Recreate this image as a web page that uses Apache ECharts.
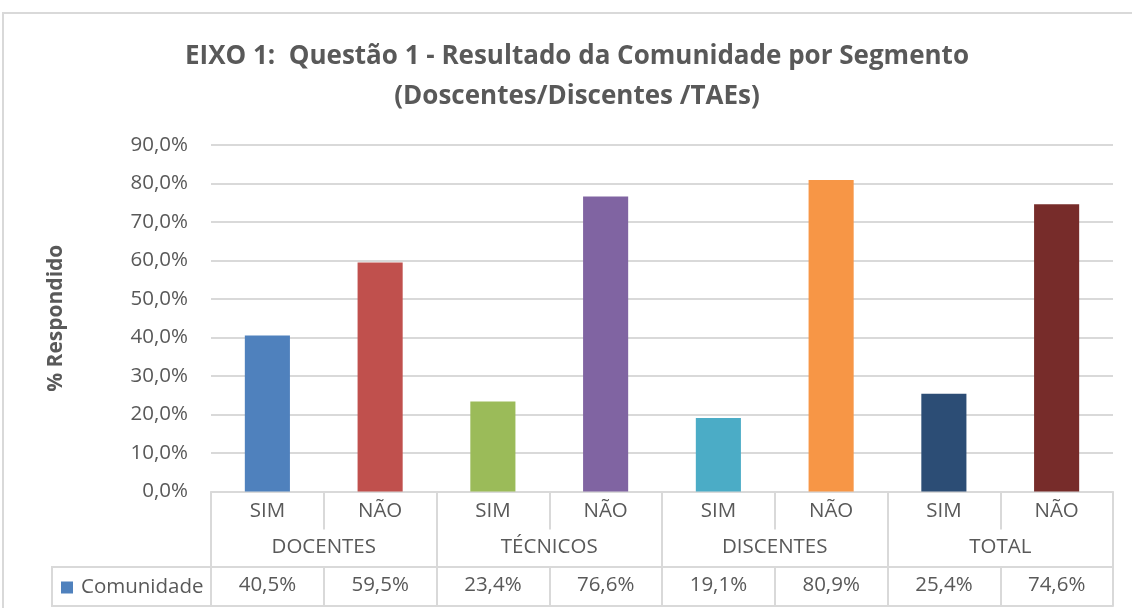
<!DOCTYPE html>
<html>
<head>
<meta charset="utf-8">
<title>EIXO 1 - Questão 1</title>
<script src="https://cdn.jsdelivr.net/npm/echarts@6/dist/echarts.min.js"></script>
<style>
  html, body { margin: 0; padding: 0; background: #fff; }
  #chart { width: 1132px; height: 608px; }
</style>
</head>
<body>
<div id="chart"></div>
<script>
// categorias (dois níveis) e valores
var segmentos = ['DOCENTES', 'TÉCNICOS', 'DISCENTES', 'TOTAL']
var respostas = ['SIM', 'NÃO', 'SIM', 'NÃO', 'SIM', 'NÃO', 'SIM', 'NÃO']
var comunidade = [40.5, 59.5, 23.4, 76.6, 19.1, 80.9, 25.4, 74.6]
var cores = ['#4F81BD', '#C0504D', '#9BBB59', '#8064A2', '#4BACC6', '#F79646', '#2C4D75', '#772C2A']
var yTicks = { min: 0, max: 90, interval: 10 }

var fonte = '"Open Sans", Lato, sans-serif'
var cinza = '#595959'
var linha = '#d9d9d9'
var fs = 20.5

function pct(v) {
  return v.toFixed(1).replace('.', ',') + '%'
}

var tabela = comunidade.map(pct)

var chart = echarts.init(document.getElementById('chart'))

var option = {
  animation: false,
  textStyle: { fontFamily: fonte },
  title: {
    text: 'EIXO 1:  Questão 1 - Resultado da Comunidade por Segmento\n(Doscentes/Discentes /TAEs)',
    left: 572,
    top: 32,
    textAlign: 'center',
    textStyle: {
      fontFamily: fonte,
      fontSize: 26,
      fontWeight: 'bold',
      color: cinza,
      lineHeight: 40
    }
  },
  legend: {
    data: ['Comunidade'],
    left: 56,
    top: 572,
    icon: 'rect',
    itemWidth: 12,
    itemHeight: 12,
    textStyle: { fontFamily: fonte, fontSize: fs, color: cinza, padding: [0, 0, 0, 3] }
  },
  grid: {
    left: 211,
    right: 19,
    top: 145,
    bottom: 116.5
  },
  xAxis: [
    {
      // SIM / NÃO
      type: 'category',
      data: respostas,
      position: 'bottom',
      axisLine: { show: true, lineStyle: { color: linha, width: 2 } },
      axisTick: { show: true, interval: 0, length: 38, lineStyle: { color: linha, width: 2 } },
      axisLabel: { interval: 0, margin: 9, fontSize: fs, color: cinza, fontFamily: fonte }
    },
    {
      // segmentos
      type: 'category',
      data: segmentos,
      position: 'bottom',
      axisLine: { show: false },
      axisTick: { show: true, interval: 0, length: 114.5, lineStyle: { color: linha, width: 2 } },
      axisLabel: { interval: 0, margin: 45, fontSize: fs, color: cinza, fontFamily: fonte }
    },
    {
      // tabela de dados
      type: 'category',
      data: tabela,
      position: 'bottom',
      offset: 75.5,
      axisLine: { show: true, lineStyle: { color: linha, width: 2 } },
      axisTick: { show: true, interval: 0, length: 39, lineStyle: { color: linha, width: 2 } },
      axisLabel: { interval: 0, margin: 8, fontSize: fs, color: cinza, fontFamily: fonte }
    },
    {
      // linha inferior da tabela
      type: 'category',
      data: tabela,
      position: 'bottom',
      offset: 114.5,
      axisLine: { show: true, lineStyle: { color: linha, width: 2 } },
      axisTick: { show: false },
      axisLabel: { show: false }
    }
  ],
  yAxis: {
    type: 'value',
    min: yTicks.min,
    max: yTicks.max,
    interval: yTicks.interval,
    name: '% Respondido',
    nameLocation: 'middle',
    nameGap: 144,
    nameTextStyle: { fontFamily: fonte, fontSize: 21, fontWeight: 'bold', color: cinza },
    axisLine: { show: false },
    axisTick: { show: false },
    axisLabel: { margin: 23, fontSize: fs, color: cinza, fontFamily: fonte, formatter: pct },
    splitLine: { lineStyle: { color: linha, width: 2 } }
  },
  series: [
    {
      name: 'Comunidade',
      type: 'bar',
      xAxisIndex: 0,
      barCategoryGap: '60%',
      itemStyle: { color: cores[0] },
      data: comunidade.map(function(v, i) {
        return { value: v, itemStyle: { color: cores[i] } }
      })
    }
  ]
}

chart.setOption(option)

// moldura externa e célula da legenda da tabela
var x0 = chart.convertToPixel({ xAxisIndex: 0 }, 0) - chart.getModel().getComponent('xAxis', 0).axis.getBandWidth() / 2
var yTopo = chart.convertToPixel({ yAxisIndex: 0 }, 0) + 75.5
chart.setOption({
  graphic: [
    {
      type: 'rect',
      silent: true,
      shape: { x: 3, y: 13, width: 1200, height: 700 },
      style: { fill: 'none', stroke: linha, lineWidth: 2 }
    },
    {
      type: 'rect',
      silent: true,
      shape: { x: 52, y: yTopo, width: x0 - 52, height: 39 },
      style: { fill: 'none', stroke: linha, lineWidth: 2 }
    }
  ]
})
</script>
</body>
</html>
